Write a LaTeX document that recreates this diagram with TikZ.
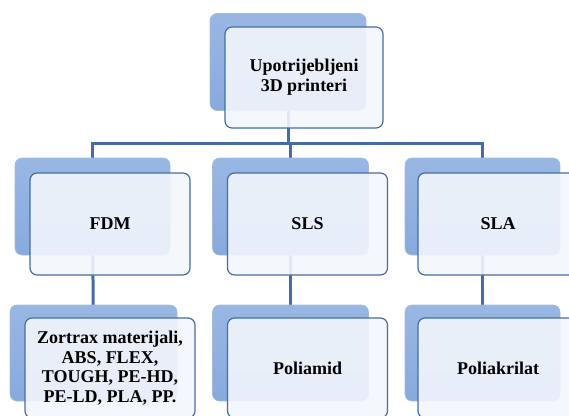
\documentclass[tikz,border=0pt]{standalone}
\usepackage{fontspec}
\setmainfont{Liberation Serif}
\usetikzlibrary{backgrounds}
\definecolor{boxblue}{RGB}{135,170,222}
\definecolor{boxdark}{RGB}{105,140,195}
\definecolor{lineblue}{RGB}{70,108,165}
\definecolor{frontfill}{RGB}{243,246,252}

\begin{document}
\begin{tikzpicture}[x=1pt,y=-1pt,
    backbox/.style={rounded corners=7pt,inner sep=0pt,draw=boxdark!60,line width=0.6pt,
        top color=boxblue!85,bottom color=boxblue,minimum width=156pt,minimum height=97pt},
    frontbox/.style={rounded corners=7pt,inner sep=0pt,draw=lineblue,line width=1.2pt,
        fill=frontfill,fill opacity=0.9,text opacity=1,minimum width=160pt,minimum height=102pt,
        align=center,font=\bfseries\fontsize{18}{20}\selectfont},
    conn/.style={draw=lineblue,line width=3pt}]
    \useasboundingbox(0,0)rectangle(569,415);

    \node[backbox](topb)at(288,62){};
    \node[frontbox,minimum width=158pt,minimum height=101pt](top)at(304,77.5){Upotrijebljeni\\3D printeri};

    \node[backbox,minimum width=155pt](fdmb)at(92.5,206.5){};
    \node[frontbox](fdm)at(110,224){FDM};
    \node[backbox](slsb)at(290.5,206.5){};
    \node[frontbox](sls)at(307.5,224){SLS};
    \node[backbox,minimum width=155pt](slab)at(482.5,206.5){};
    \node[frontbox](sla)at(498,224){SLA};

    \node[backbox,minimum width=167pt,minimum height=96pt](fdmmatb)at(93.5,353){};
    \node[frontbox,minimum width=170pt,minimum height=100pt,font=\bfseries\fontsize{18}{19.5}\selectfont](fdmmat)at(110,368){Zortrax materijali,\\ABS, FLEX,\\TOUGH, PE-HD,\\PE-LD, PLA, PP.};
    \node[backbox,minimum height=96pt](slsmatb)at(290.5,353){};
    \node[frontbox,minimum height=100pt](slsmat)at(307.5,368){Poliamid};
    \node[backbox,minimum width=155pt,minimum height=96pt](slamatb)at(482.5,353){};
    \node[frontbox,minimum height=100pt](slamat)at(498,368){Poliakrilat};

    \begin{pgfonlayer}{background}
        \coordinate(bus)at(0,143);
        \draw[conn](topb.center)--(topb.center|-bus);
        \draw[conn,line cap=rect](fdmb.center|-bus)--(slab.center|-bus);
        \foreach \n in {fdm,sls,sla}{
            \draw[conn](\n b.center|-bus)--(\n b.center);
            \draw[conn](\n b.center)--(\n matb.center);
        }
    \end{pgfonlayer}
\end{tikzpicture}
\end{document}
